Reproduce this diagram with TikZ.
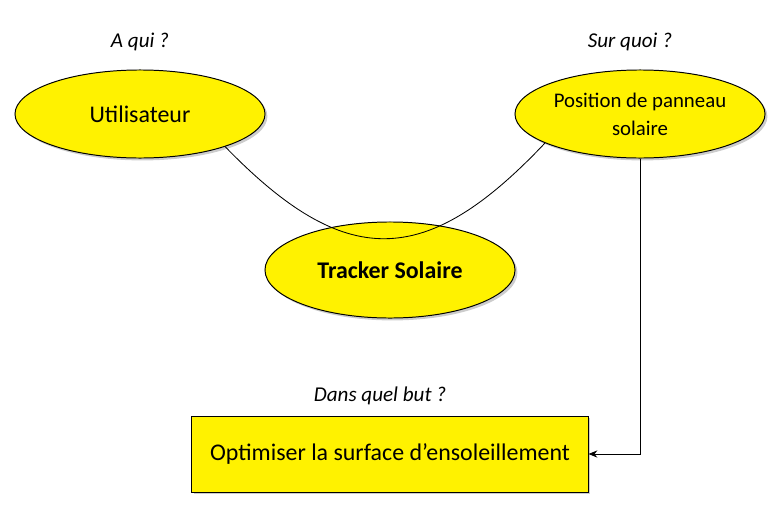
\documentclass[tikz,border=0pt]{standalone}
\usepackage{fontspec}
\setmainfont{Carlito}
\usetikzlibrary{shapes.geometric, arrows, arrows.meta, positioning, shadows}
\tikzstyle{topic} = [ellipse, minimum width=6.25cm, minimum height=2.2cm, align=center, draw=black, line width=0.7pt, fill=yellow, drop shadow={opacity=0.4, shadow xshift=0.06cm, shadow yshift=-0.06cm}]
\tikzstyle{goalbox} = [rectangle, minimum width=9.9cm, minimum height=1.9cm, text centered, draw=black, line width=0.7pt, fill=yellow, drop shadow={opacity=0.4, shadow xshift=0.06cm, shadow yshift=-0.06cm}]
\tikzstyle{question} = [font=\itshape\fontsize{15}{18}\selectfont]
\tikzstyle{arrow} = [semithick,->,>={Stealth[length=2.2mm,width=1.8mm]}]

\begin{document}
\begin{tikzpicture}[x=0.025cm, y=-0.025cm]
\useasboundingbox (0,0) rectangle (781,506);

%Who
\node (user) [topic, font=\fontsize{17}{20}\selectfont] at (140,114) {Utilisateur};
\node (q_user) [question, above=0.35cm of user] {A qui ?};

%On what
\node (panel) [topic, inner sep=0pt, font=\fontsize{14.8}{20}\selectfont] at (640,114) {Position de panneau\\solaire};
\node (q_panel) [question, above=0.35cm of panel, xshift=-0.25cm] {Sur quoi ?};

%System
\node (tracker) [topic, minimum height=2.4cm, font=\bfseries\fontsize{17}{20}\selectfont] at (390,270) {Tracker Solaire};

%Goal
\node (goal) [goalbox, font=\fontsize{17}{20}\selectfont] at (390,454) {Optimiser la surface d’ensoleillement};
\node (q_goal) [question, above=0.15cm of goal, xshift=-0.25cm] {Dans quel but ?};

\draw [semithick] (user.-21) .. controls (345,270) and (425,270) .. (panel.-163);
\draw [arrow] (panel.south) |- (goal.east);

\end{tikzpicture}
\end{document}
